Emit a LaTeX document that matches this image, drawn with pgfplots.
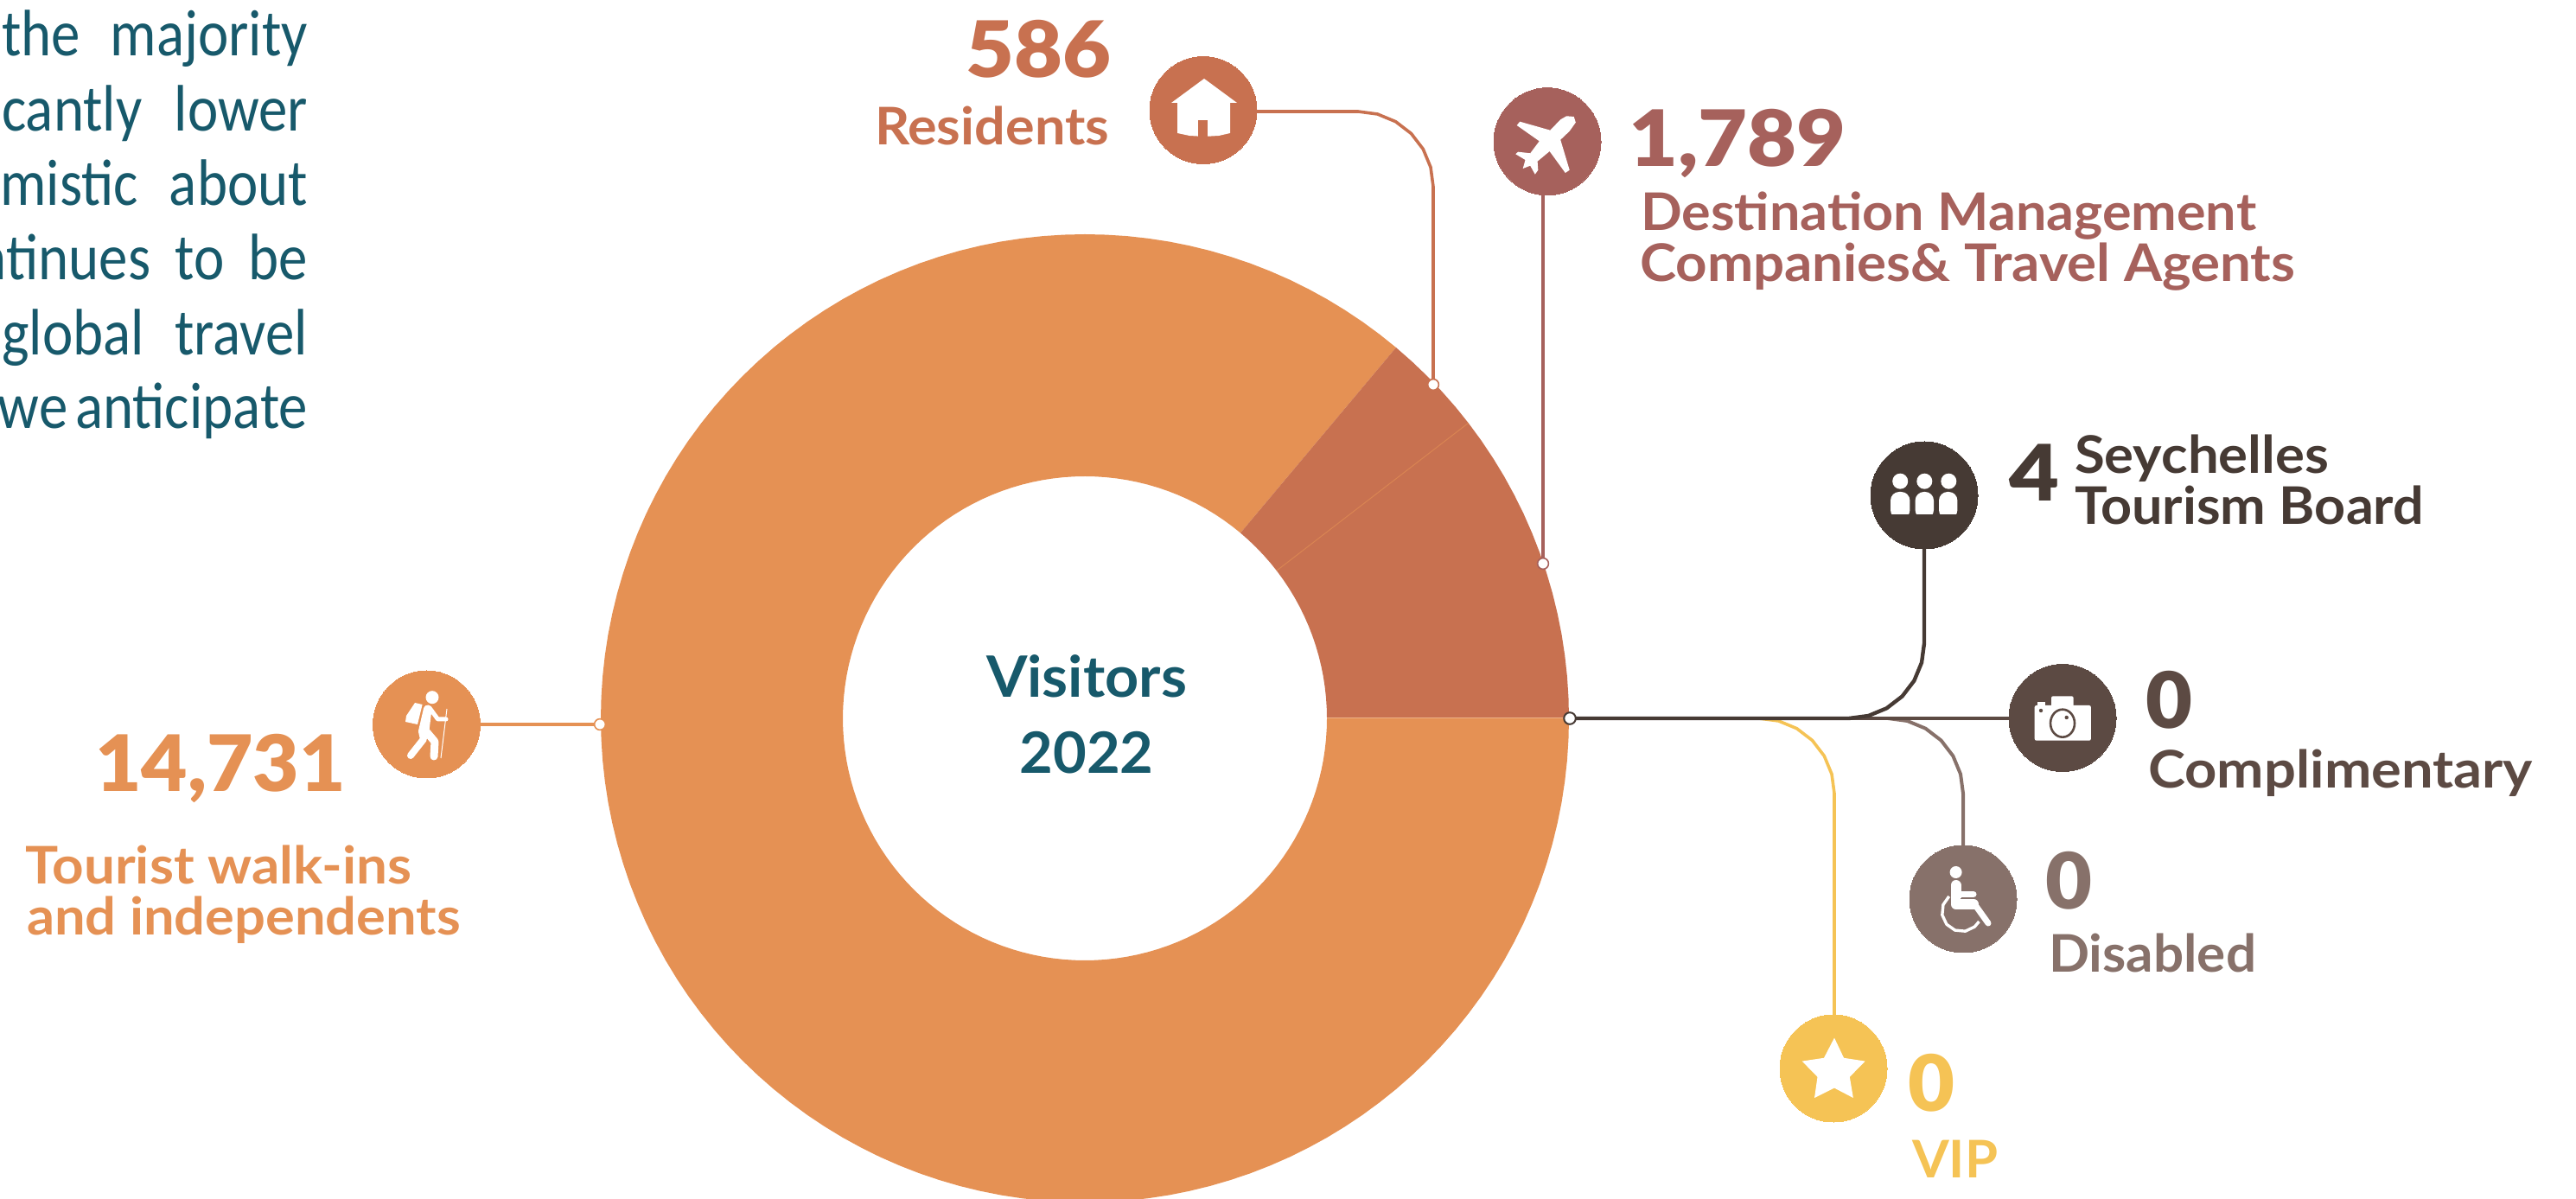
\documentclass[border=0pt]{standalone}
\usepackage{pgfplots}
\pgfplotsset{compat=1.18}
\usepackage{graphicx}
\usepackage{fontspec}
\setmainfont{Lato}
\newfontfamily\parafont{Carlito}
\newfontfamily\numfont{Lato Black}
\definecolor{ctour}{HTML}{E59154}
\definecolor{cres}{HTML}{C87150}
\definecolor{cdmc}{HTML}{A6615C}
\definecolor{csey}{HTML}{463A34}
\definecolor{ccom}{HTML}{5C4A43}
\definecolor{cdis}{HTML}{87716A}
\definecolor{cvip}{HTML}{F5C355}
\definecolor{cteal}{HTML}{17596B}
% x y anchor colour size(pt) width(px) text
\newcommand{\lbl}[7]{\node[anchor=#3,inner sep=0pt,outer sep=0pt,text=#4] at (#1,#2)
  {\resizebox{\dimexpr#6pt/2\relax}{\height}{\fontsize{#5}{#5}\selectfont\bfseries #7}};}
\newcommand{\num}[6]{\node[anchor=#3,inner sep=0pt,outer sep=0pt,text=#4] at (#1,#2)
  {\resizebox{\dimexpr#5pt/2\relax}{\height}{\fontsize{45}{45}\numfont\selectfont #6}};}
\newcommand{\para}[3]{\node[anchor=base east,inner sep=0pt,outer sep=0pt,text=cteal] at (356,#1)
  {\scalebox{0.88}[1]{\fontsize{38}{38}\parafont\selectfont\makebox[#2pt][s]{#3}}};}
\newcommand{\parb}[2]{\node[anchor=base east,inner sep=0pt,outer sep=0pt,text=cteal] at (356,#1)
  {\scalebox{0.88}[1]{\fontsize{38}{38}\parafont\selectfont\mbox{#2}}};}
\begin{document}
\begin{tikzpicture}
\clip (0,0) rectangle (1490pt,693pt);
\begin{axis}[at={(0,0)},anchor=south west,scale only axis,width=1490pt,height=693pt,
  xmin=-1255,xmax=1725,ymin=-555,ymax=831,hide axis]
% Visitors 2022: Tourist walk-ins and independents 14,731 (50 to 360 degrees)
\addplot[fill=ctour,draw=none,data cs=polar] coordinates {
(50,560)(52.5,560)(55,560)(57.5,560)(60,560)(62.5,560)(65,560)(67.5,560)(70,560)(72.5,560)(75,560)(77.5,560)(80,560)(82.5,560)(85,560)(87.5,560)(90,560)(92.5,560)(95,560)(97.5,560)(100,560)(102.5,560)(105,560)(107.5,560)(110,560)(112.5,560)(115,560)(117.5,560)(120,560)(122.5,560)(125,560)(127.5,560)(130,560)(132.5,560)(135,560)(137.5,560)(140,560)(142.5,560)(145,560)(147.5,560)(150,560)(152.5,560)(155,560)(157.5,560)(160,560)(162.5,560)(165,560)(167.5,560)(170,560)(172.5,560)(175,560)(177.5,560)(180,560)(182.5,560)(185,560)(187.5,560)(190,560)(192.5,560)(195,560)(197.5,560)(200,560)(202.5,560)(205,560)(207.5,560)(210,560)(212.5,560)(215,560)(217.5,560)(220,560)(222.5,560)(225,560)(227.5,560)(230,560)(232.5,560)(235,560)(237.5,560)(240,560)(242.5,560)(245,560)(247.5,560)(250,560)(252.5,560)(255,560)(257.5,560)(260,560)(262.5,560)(265,560)(267.5,560)(270,560)(272.5,560)(275,560)(277.5,560)(280,560)(282.5,560)(285,560)(287.5,560)(290,560)(292.5,560)(295,560)(297.5,560)(300,560)(302.5,560)(305,560)(307.5,560)(310,560)(312.5,560)(315,560)(317.5,560)(320,560)(322.5,560)(325,560)(327.5,560)(330,560)(332.5,560)(335,560)(337.5,560)(340,560)(342.5,560)(345,560)(347.5,560)(350,560)(352.5,560)(355,560)(357.5,560)(360,560)
(360,280)(357.5,280)(355,280)(352.5,280)(350,280)(347.5,280)(345,280)(342.5,280)(340,280)(337.5,280)(335,280)(332.5,280)(330,280)(327.5,280)(325,280)(322.5,280)(320,280)(317.5,280)(315,280)(312.5,280)(310,280)(307.5,280)(305,280)(302.5,280)(300,280)(297.5,280)(295,280)(292.5,280)(290,280)(287.5,280)(285,280)(282.5,280)(280,280)(277.5,280)(275,280)(272.5,280)(270,280)(267.5,280)(265,280)(262.5,280)(260,280)(257.5,280)(255,280)(252.5,280)(250,280)(247.5,280)(245,280)(242.5,280)(240,280)(237.5,280)(235,280)(232.5,280)(230,280)(227.5,280)(225,280)(222.5,280)(220,280)(217.5,280)(215,280)(212.5,280)(210,280)(207.5,280)(205,280)(202.5,280)(200,280)(197.5,280)(195,280)(192.5,280)(190,280)(187.5,280)(185,280)(182.5,280)(180,280)(177.5,280)(175,280)(172.5,280)(170,280)(167.5,280)(165,280)(162.5,280)(160,280)(157.5,280)(155,280)(152.5,280)(150,280)(147.5,280)(145,280)(142.5,280)(140,280)(137.5,280)(135,280)(132.5,280)(130,280)(127.5,280)(125,280)(122.5,280)(120,280)(117.5,280)(115,280)(112.5,280)(110,280)(107.5,280)(105,280)(102.5,280)(100,280)(97.5,280)(95,280)(92.5,280)(90,280)(87.5,280)(85,280)(82.5,280)(80,280)(77.5,280)(75,280)(72.5,280)(70,280)(67.5,280)(65,280)(62.5,280)(60,280)(57.5,280)(55,280)(52.5,280)(50,280)
} --cycle;
% Residents 586 (37.6 to 50 degrees)
\addplot[fill=cres,draw=none,data cs=polar] coordinates {
(37.6,560)(40,560)(42.5,560)(45,560)(47.5,560)(50,560)(50,280)(47.5,280)(45,280)(42.5,280)(40,280)(37.6,280)
} --cycle;
% Destination Management Companies & Travel Agents 1,789 (0 to 37.6 degrees)
\addplot[fill=cres,draw=none,data cs=polar] coordinates {
(0,560)(2.5,560)(5,560)(7.5,560)(10,560)(12.5,560)(15,560)(17.5,560)(20,560)(22.5,560)(25,560)(27.5,560)(30,560)(32.5,560)(35,560)(37.6,560)
(37.6,280)(35,280)(32.5,280)(30,280)(27.5,280)(25,280)(22.5,280)(20,280)(17.5,280)(15,280)(12.5,280)(10,280)(7.5,280)(5,280)(2.5,280)(0,280)
} --cycle;
\addplot[draw=ctour!60!cres,line width=0.5pt,data cs=polar] coordinates {(37.6,280)(37.6,560)};
\addplot[draw=ctour!70!white,line width=0.5pt,data cs=polar] coordinates {(0,280)(0,560)};
% leader lines
\addplot[ctour,line width=2pt] coordinates {(-699,-7)(-561,-7)};
\addplot[cres,line width=1.8pt] coordinates {(199,702)(316,702)(338.5,699)(359.5,690.3)(377.5,676.5)(391.3,658.5)(400,637.5)(403,615)(403,386)};
\addplot[cdmc,line width=1.8pt] coordinates {(530,605)(530,179)};
\addplot[cvip,line width=1.8pt] coordinates {(780,0)(802.5,-3)(823.5,-11.7)(841.5,-25.5)(855.3,-43.5)(864,-64.5)(867,-87)(867,-343)};
\addplot[cdis,line width=2pt] coordinates {(929,0)(951.5,-3)(972.5,-11.7)(990.5,-25.5)(1004.3,-43.5)(1013,-64.5)(1016,-87)(1016,-147)};
\addplot[ccom,line width=2.2pt] coordinates {(561,0)(1069,0)};
\addplot[csey,line width=2.2pt] coordinates {(561,0)(884,0)(906.5,3)(927.5,11.7)(945.5,25.5)(959.3,43.5)(968,64.5)(971,87)(971,196)};
% icon discs
\addplot[ctour,only marks,mark=*,mark size=31pt,mark options={draw=ctour,fill=ctour,line width=0pt}] coordinates {(-761.5,-7)};
\addplot[cres,only marks,mark=*,mark size=31pt,mark options={draw=cres,fill=cres,line width=0pt}] coordinates {(137,703.5)};
\addplot[cdmc,only marks,mark=*,mark size=31pt,mark options={draw=cdmc,fill=cdmc,line width=0pt}] coordinates {(535,667.3)};
\addplot[csey,only marks,mark=*,mark size=31pt,mark options={draw=csey,fill=csey,line width=0pt}] coordinates {(971,258)};
\addplot[ccom,only marks,mark=*,mark size=31pt,mark options={draw=ccom,fill=ccom,line width=0pt}] coordinates {(1131,0.5)};
\addplot[cdis,only marks,mark=*,mark size=31pt,mark options={draw=cdis,fill=cdis,line width=0pt}] coordinates {(1016,-209)};
\addplot[cvip,only marks,mark=*,mark size=31pt,mark options={draw=cvip,fill=cvip,line width=0pt}] coordinates {(866,-405)};
% anchor dots
\addplot[only marks,mark=*,mark size=3.2pt,mark options={draw=ctour,fill=white,line width=0.8pt}] coordinates {(-561,-7)};
\addplot[only marks,mark=*,mark size=3.2pt,mark options={draw=cres,fill=white,line width=0.8pt}] coordinates {(403,386)};
\addplot[only marks,mark=*,mark size=3.2pt,mark options={draw=cdmc,fill=white,line width=0.8pt}] coordinates {(530,179)};
\addplot[only marks,mark=*,mark size=3.4pt,mark options={draw=csey,fill=white,line width=1pt}] coordinates {(561,0)};
\end{axis}
\begin{scope}[shift={(0,693pt)},x=0.5pt,y=-0.5pt]
% left paragraph, cut by the page edge as in the reference
\para{65}{201}{the\hfill majority}
\para{152}{201}{cantly\hfill lower}
\para{237.5}{202}{mistic\hfill about}
\parb{324}{ntinues\hspace{16pt}to\hspace{16pt}be}
\para{411}{201}{global\hfill travel}
\parb{496}{we\hspace{5pt}anticipate}
% labels
\lbl{1257}{807}{base}{cteal}{33}{232}{Visitors}
\lbl{1257}{895}{base}{cteal}{33}{155}{2022}
\lbl{1012}{168}{base west}{cres}{30}{271}{Residents}
\num{1117}{90}{base west}{cres}{168}{586}
\num{1884}{193}{base west}{cdmc}{252}{1,789}
\lbl{1898}{267}{base west}{cdmc}{30}{712}{Destination Management}
\lbl{1897}{326}{base west}{cdmc}{30}{758}{Companies\& Travel Agents}
\num{2324}{580}{base west}{csey}{58}{4}
\lbl{2400}{548}{base west}{csey}{30}{294}{Seychelles}
\lbl{2400}{607}{base west}{csey}{30}{404}{Tourism Board}
\num{2482}{843}{base west}{ccom}{54}{0}
\lbl{2485}{912}{base west}{ccom}{30}{445}{Complimentary}
\num{2366}{1052}{base west}{cdis}{54}{0}
\lbl{2370}{1125}{base west}{cdis}{30}{240}{Disabled}
\num{2207}{1286}{base west}{cvip}{54}{0}
\lbl{2212}{1362}{base west}{cvip}{30}{99}{VIP}
\num{110}{916}{base west}{ctour}{290}{14,731}
\lbl{30}{1023}{base west}{ctour}{30}{446}{Tourist walk-ins}
\lbl{31}{1082}{base west}{ctour}{30}{502}{and independents}
% house
\fill[white] (1393,91)--(1431,119)--(1423,119)--(1423,154)--(1410,157)--(1393,158)--(1376,157)--(1362,154)--(1362,119)--(1355,119)--cycle;
\fill[cres] (1386,139) rectangle (1397,159);
% plane
\fill[white] (1820.7,135)--(1822.8,141.7)--(1815.7,151.7)--(1805.2,161.7)--(1815.7,196.7)--(1810.8,200)--(1792.6,175)--(1778.6,186.7)--(1779.3,196.7)--(1775.8,201.7)--(1770.2,191.7)--(1761.7,195)--(1764.5,185)--(1753.3,178.3)--(1756.1,175.7)--(1770.2,177.3)--(1780.7,163.3)--(1754.7,145)--(1758.2,140.7)--(1793.3,150.7)--(1805.2,138.3)--(1812.2,134.3)--cycle;
% group
\fill[white] (2198.2,556.7) circle[radius=9] (2226.3,556.7) circle[radius=9] (2254.3,556.7) circle[radius=9];
\fill[white,rounded corners=5pt] (2187,600)--(2187,569)--(2209.4,569)--(2209.4,600)--cycle;
\fill[white,rounded corners=5pt] (2215.6,600)--(2215.6,569)--(2237,569)--(2237,600)--cycle;
\fill[white,rounded corners=5pt] (2243,600)--(2243,569)--(2264.4,569)--(2264.4,600)--cycle;
\fill[csey] (2180,595) rectangle (2270,605);
% camera
\fill[white,rounded corners=1pt] (2353.7,856.7) rectangle (2418.8,816);
\fill[white,rounded corners=1pt] (2373,820) rectangle (2398.6,805.3);
\fill[white] (2357,820) rectangle (2366,812);
\draw[ccom,line width=1.3pt,fill=white] (2386,836.7) ellipse [x radius=14,y radius=16];
\fill[ccom] (2390.7,830) circle[radius=2.2] (2361,822) circle[radius=2.2];
% wheelchair
\fill[white] (2262.6,1009) circle[radius=7];
\draw[white,line width=6pt,line cap=round,line join=round] (2262.6,1024)--(2262.6,1046)--(2283,1046);
\draw[white,line width=3.5pt,line cap=round] (2262.6,1034.5)--(2283,1034.5);
\draw[cdis,line width=0.5pt] (2268,1039.5)--(2290,1039.5);
\draw[white,line width=3.5pt,line cap=round,line join=round] (2285,1047)--(2300,1068);
\draw[white,line width=1.7pt,line join=round] (2254.7,1036.9)--(2247.9,1046.6)--(2246.8,1058.5)--(2251.9,1069.3)--(2261.6,1076.1)--(2273.5,1077.2)--(2284.3,1072.1)--(2289.4,1066);
% hiker
\fill[white] (500,806.7) circle[radius=7.5];
\fill[white] (480,813)--(488.6,815)--(483,838)--(469,835)--(470,828)--cycle;
\draw[white,line width=4pt,line cap=round,line join=round] (494,820)--(488,846)--(490,855)--(475,874);
\draw[white,line width=4.5pt,line cap=round,line join=round] (495,820)--(492,845)--(503,858)--(502,875);
\draw[white,line width=2.5pt,line cap=round,line join=round] (497,819)--(506.5,832)--(516,832);
\draw[white,line width=0.5pt] (517,820)--(510,877);
% star
\fill[white] (2122,1200.6)--(2133,1223.8)--(2157.6,1227.6)--(2139.8,1245.8)--(2143.8,1270)--(2122,1258.6)--(2099,1270)--(2102.5,1245.8)--(2084.7,1227.6)--(2110,1223.8)--cycle;
\end{scope}
\end{tikzpicture}
\end{document}
